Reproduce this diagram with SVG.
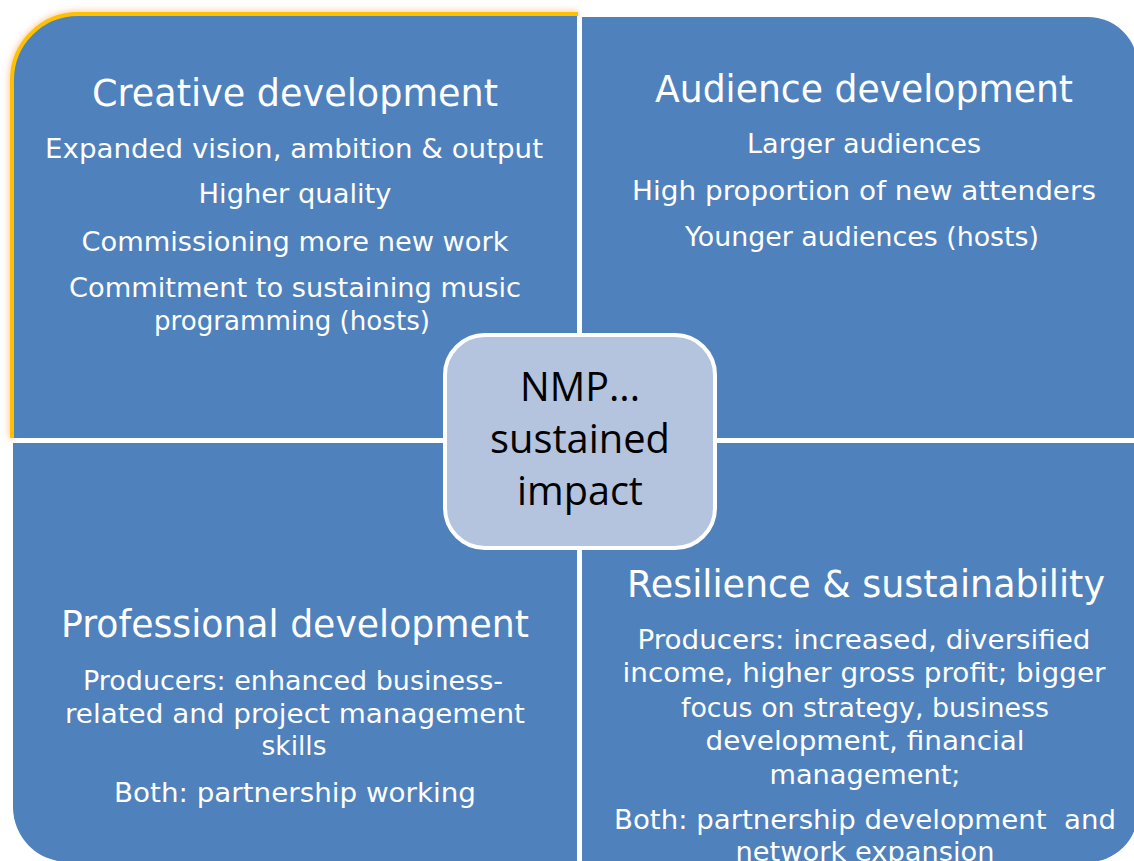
<svg xmlns="http://www.w3.org/2000/svg" width="1134" height="861" viewBox="0 0 1134 861">
  <style>
    .quad { fill: #4F81BD; }
    .h { font-family: "DejaVu Sans", "Liberation Sans", sans-serif; font-size: 37px; fill: #FFFFFF; text-anchor: middle; }
    .t { font-family: "DejaVu Sans", "Liberation Sans", sans-serif; font-size: 26px; fill: #FFFFFF; text-anchor: middle; }
    .c { font-family: "Open Sans", "Liberation Sans", sans-serif; font-size: 41px; fill: #000000; text-anchor: middle; }
  </style>
  <defs>
    <filter id="glow" x="-50%" y="-10%" width="200%" height="120%">
      <feGaussianBlur stdDeviation="3"/>
    </filter>
  </defs>
  <rect x="0" y="0" width="1134" height="861" fill="#FFFFFF"/>

  <g id="q-creative">
    <path d="M12 438 L12 80 A66 66 0 0 1 78 14 L578 14" fill="none" stroke="#F79646" stroke-width="6" stroke-opacity="0.55" filter="url(#glow)"/>
    <path class="quad" d="M12 438 L12 80 A66 66 0 0 1 78 14 L577 14 L577 438 Z"/>
    <path d="M12 438 L12 80 A66 66 0 0 1 78 14 L578 14" fill="none" stroke="#FFC000" stroke-width="4"/>
    <text class="h" x="295" y="106" textLength="406" lengthAdjust="spacingAndGlyphs">Creative development</text>
    <text class="t" x="294" y="158" textLength="498" lengthAdjust="spacingAndGlyphs">Expanded vision, ambition &amp; output</text>
    <text class="t" x="295" y="203" textLength="193" lengthAdjust="spacingAndGlyphs">Higher quality</text>
    <text class="t" x="295" y="251" textLength="427" lengthAdjust="spacingAndGlyphs">Commissioning more new work</text>
    <text class="t" x="295" y="297" textLength="452" lengthAdjust="spacingAndGlyphs">Commitment to sustaining music</text>
    <text class="t" x="292" y="330" textLength="276" lengthAdjust="spacingAndGlyphs">programming (hosts)</text>
  </g>

  <g id="q-audience">
    <path class="quad" d="M582 17 L1088 17 A50 50 0 0 1 1138 67 L1138 438 L582 438 Z"/>
    <text class="h" x="864" y="102" textLength="418" lengthAdjust="spacingAndGlyphs">Audience development</text>
    <text class="t" x="864" y="153" textLength="234" lengthAdjust="spacingAndGlyphs">Larger audiences</text>
    <text class="t" x="864" y="200" textLength="464" lengthAdjust="spacingAndGlyphs">High proportion of new attenders</text>
    <text class="t" x="862" y="246" textLength="354" lengthAdjust="spacingAndGlyphs">Younger audiences (hosts)</text>
  </g>

  <g id="q-professional">
    <path class="quad" d="M13 443 L577 443 L577 862 L68 862 A55 55 0 0 1 13 807 Z"/>
    <text class="h" x="295" y="637" textLength="468" lengthAdjust="spacingAndGlyphs">Professional development</text>
    <text class="t" x="293" y="690" textLength="420" lengthAdjust="spacingAndGlyphs">Producers: enhanced business-</text>
    <text class="t" x="295" y="723" textLength="460" lengthAdjust="spacingAndGlyphs">related and project management</text>
    <text class="t" x="294" y="755" textLength="65" lengthAdjust="spacingAndGlyphs">skills</text>
    <text class="t" x="295" y="802" textLength="362" lengthAdjust="spacingAndGlyphs">Both: partnership working</text>
  </g>

  <g id="q-resilience">
    <path class="quad" d="M582 443 L1138 443 L1138 812 A50 50 0 0 1 1088 862 L582 862 Z"/>
    <text class="h" x="866" y="597" textLength="478" lengthAdjust="spacingAndGlyphs">Resilience &amp; sustainability</text>
    <text class="t" x="864" y="649" textLength="453" lengthAdjust="spacingAndGlyphs">Producers: increased, diversified</text>
    <text class="t" x="864" y="682" textLength="483" lengthAdjust="spacingAndGlyphs">income, higher gross profit; bigger</text>
    <text class="t" x="865" y="717" textLength="368" lengthAdjust="spacingAndGlyphs">focus on strategy, business</text>
    <text class="t" x="865" y="750" textLength="319" lengthAdjust="spacingAndGlyphs">development, financial</text>
    <text class="t" x="865" y="784" textLength="191" lengthAdjust="spacingAndGlyphs">management;</text>
    <text class="t" x="865" y="829" textLength="502" lengthAdjust="spacingAndGlyphs" xml:space="preserve">Both: partnership development  and</text>
    <text class="t" x="865" y="861" textLength="259" lengthAdjust="spacingAndGlyphs">network expansion</text>
  </g>

  <g id="center">
    <rect x="445" y="335" width="270" height="213" rx="40" ry="40" fill="#B4C3DE" stroke="#FFFFFF" stroke-width="4"/>
    <text class="c" x="580" y="401" textLength="120" lengthAdjust="spacingAndGlyphs">NMP...</text>
    <text class="c" x="580" y="453" textLength="180" lengthAdjust="spacingAndGlyphs">sustained</text>
    <text class="c" x="580" y="505" textLength="126" lengthAdjust="spacingAndGlyphs">impact</text>
  </g>
</svg>
